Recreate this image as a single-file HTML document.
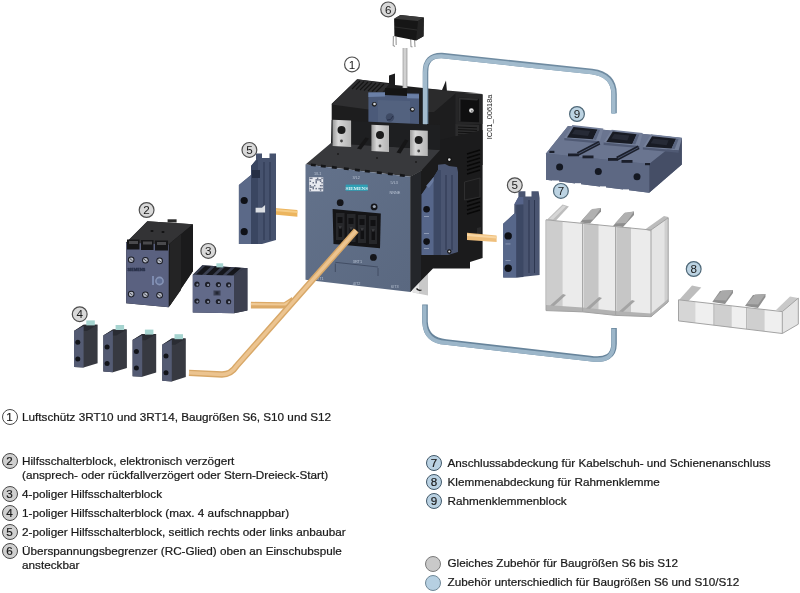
<!DOCTYPE html>
<html><head><meta charset="utf-8">
<style>
html,body{margin:0;padding:0;background:#fff;}
body{width:800px;height:593px;position:relative;overflow:hidden;font-family:"Liberation Sans",sans-serif;color:#1a1a1a;}
.t{position:absolute;font-size:11.73px;line-height:13.5px;white-space:nowrap;-webkit-text-stroke:0.22px #151515;filter:blur(0.3px);}
.c{position:absolute;width:14px;height:14px;border:1.3px solid #484848;border-radius:50%;font-size:11.65px;line-height:14px;text-align:center;color:#1a1a1a;filter:blur(0.3px);-webkit-text-stroke:0.2px #1a1a1a;}
.g{background:#d0d0d0;}
.b{background:#bad2e3;border-color:#42596a;}
#art{position:absolute;left:0;top:0;filter:blur(0.4px);}
</style></head><body>
<svg id="art" width="800" height="400" viewBox="0 0 800 400">
<defs>
 <linearGradient id="lug" x1="0" x2="1" y1="0" y2="0">
  <stop offset="0" stop-color="#9a9a9a"/><stop offset="0.3" stop-color="#d8d8d8"/><stop offset="1" stop-color="#b4b4b4"/>
 </linearGradient>
 <linearGradient id="rod" x1="0" x2="1"><stop offset="0" stop-color="#a8a8a8"/><stop offset="0.5" stop-color="#dcdcdc"/><stop offset="1" stop-color="#a0a0a0"/></linearGradient>
 <linearGradient id="face" x1="0" x2="1" y1="0" y2="1"><stop offset="0" stop-color="#63728b"/><stop offset="1" stop-color="#5a6880"/></linearGradient>
</defs>
<!-- bottom blue pipe -->
<path d="M425,304.5 L425,322 Q426,340.5 446,342 L590,358.5 Q614,362 614,344 L614,328" fill="none" stroke="#67849b" stroke-width="5.6"/>
<path d="M425,304.5 L425,322 Q426,340.5 446,342 L590,358.5 Q614,362 614,344 L614,328" fill="none" stroke="#9cb6c9" stroke-width="4" transform="translate(-0.5,0.8)"/>
<!-- ========== CONTACTOR ========== -->
<!-- upper housing silhouette -->
<polygon points="331.7,103.7 357,79.3 389,83 389,75.5 395,73.4 395,85 442,90 446,80.6 447,92 482.6,94.3 482.6,165 331.7,165" fill="#1d1d1e"/>
<!-- upper-left top face with fins -->
<polygon points="331.6,104.4 357.5,79.3 389,84 368.4,109.5" fill="#2f2f31"/>
<g stroke="#141414" stroke-width="1.1">
 <line x1="360" y1="81" x2="352" y2="89"/><line x1="364" y1="81.5" x2="356" y2="89.5"/><line x1="368" y1="82" x2="360" y2="90"/><line x1="372" y1="82.5" x2="364" y2="90.5"/><line x1="376" y1="83" x2="368" y2="91"/><line x1="380" y1="83.5" x2="372" y2="91.5"/><line x1="384" y1="84" x2="376" y2="92"/>
</g>
<!-- right upper block top -->
<polygon points="428,89 447,90.5 482.4,93.6 455.4,93.5 434,112 428,112" fill="#2b2b2c"/>
<polygon points="455.4,93 482.4,94.4 482.4,124 455.4,124" fill="#262627"/>
<polygon points="458.8,97.5 479,98.5 479,122.3 458.8,121.5" fill="#0f0f10"/>
<polygon points="458.8,97.5 479,98.5 477,100.5 460.5,99.5 460.5,121.5 458.8,121.5" fill="#2f2f30"/>
<circle cx="471.4" cy="110.5" r="2.3" fill="#e4e4e4"/><circle cx="471.9" cy="111" r="1" fill="#888"/>
<!-- vent -->
<polygon points="455.4,124 479,125 479,137.5 455.4,136.5" fill="#2c2c2d"/>
<g stroke="#0d0d0d" stroke-width="0.9"><line x1="458" y1="127" x2="477" y2="127.8"/><line x1="458" y1="129.6" x2="477" y2="130.4"/><line x1="458" y1="132.2" x2="477" y2="133"/><line x1="458" y1="134.8" x2="477" y2="135.6"/></g>
<rect x="476" y="132.4" width="4.5" height="6.8" fill="#3a3a3b"/>
<!-- top blue pipe -->
<path d="M425.5,124 L425.5,72 Q425.5,55 442,55.5 L592,71.5 Q614,74.5 614,94 L614,113.3" fill="none" stroke="#6f8ba1" stroke-width="5.6"/>
<path d="M425.5,124 L425.5,72 Q425.5,55 442,55.5 L592,71.5 Q614,74.5 614,94 L614,113.3" fill="none" stroke="#a2bbcd" stroke-width="4" transform="translate(-0.5,0.8)"/>
<!-- blue coil holder -->
<polygon points="368.4,92.6 419,93.5 419,127.5 368.4,125.3" fill="#4b5a79"/>
<polygon points="378,100 410,101 410,124 378,123" fill="#53627f"/>
<circle cx="390" cy="117.5" r="4.2" fill="#3e4a64"/><path d="M387,120 Q391,121 393,116" stroke="#27304a" stroke-width="1" fill="none"/>
<polygon points="368.4,92.6 385,92.2 385,96.5 368.4,97" fill="#6a7fa6"/>
<polygon points="407,94 419,94.3 419,98.5 407,98.3" fill="#6a7fa6"/>
<polygon points="385,88 407,89 407,96 385,95" fill="#141414"/>
<circle cx="374.3" cy="104.3" r="2.4" fill="#1a1a1a"/><circle cx="374.5" cy="104" r="1.3" fill="#cfd3da"/>
<circle cx="412.3" cy="109.6" r="2.4" fill="#1a1a1a"/><circle cx="412.5" cy="109.3" r="1.3" fill="#cfd3da"/>
<!-- rod -->
<rect x="402.6" y="48" width="4.8" height="40" fill="url(#rod)"/>

<!-- lower body -->
<polygon points="305.5,164.5 331,143 442,150 423,170 410.5,176.8" fill="#38393c"/>
<!-- dark area behind lugs -->
<polygon points="331.7,120 440,125 440,150 331,143" fill="#1e1f21"/>
<!-- lugs -->
<g>
 <polygon points="332.6,119.7 351.1,120.5 351.1,147 332.6,146" fill="url(#lug)"/>
 <circle cx="341.5" cy="130" r="4" fill="#1c1c1c"/><circle cx="341.5" cy="141" r="1.4" fill="#444"/>
 <polygon points="371.4,124.8 389,125.6 389,152 371.4,151" fill="url(#lug)"/>
 <circle cx="380" cy="135" r="4" fill="#1c1c1c"/><circle cx="380" cy="146" r="1.4" fill="#444"/>
 <polygon points="410,129.9 427.8,130.7 427.8,156 410,155.4" fill="url(#lug)"/>
 <circle cx="418.7" cy="140" r="4" fill="#1c1c1c"/><circle cx="418.7" cy="151" r="1.4" fill="#444"/>
</g>
<!-- black ribs between lugs on top -->
<g fill="#161617">
 <polygon points="357,148.5 365.5,137.5 369,138.5 361,149.5"/>
 <polygon points="396.5,152.5 405,139.5 408.5,140.5 400.5,153.5"/>
</g>
<g fill="#1c1c1d"><circle cx="338" cy="154" r="1"/><circle cx="377" cy="158" r="1"/><circle cx="416" cy="162" r="1"/></g>
<!-- front face -->
<polygon points="305.5,164.5 410.5,176.8 410.5,292 305.5,279.8" fill="url(#face)"/>
<!-- top edge notches -->
<g fill="#151618"><rect x="311.0" y="163.4" width="5" height="2.6" transform="rotate(6.7 311.0 163.4)"/><rect x="321.0" y="164.6" width="5" height="2.6" transform="rotate(6.7 321.0 164.6)"/><rect x="332.0" y="165.8" width="5" height="2.6" transform="rotate(6.7 332.0 165.8)"/><rect x="344.0" y="167.2" width="5" height="2.6" transform="rotate(6.7 344.0 167.2)"/><rect x="355.0" y="168.5" width="5" height="2.6" transform="rotate(6.7 355.0 168.5)"/><rect x="365.0" y="169.7" width="5" height="2.6" transform="rotate(6.7 365.0 169.7)"/><rect x="377.0" y="171.1" width="5" height="2.6" transform="rotate(6.7 377.0 171.1)"/><rect x="388.0" y="172.4" width="5" height="2.6" transform="rotate(6.7 388.0 172.4)"/><rect x="400.0" y="173.8" width="5" height="2.6" transform="rotate(6.7 400.0 173.8)"/></g>
<!-- QR -->
<rect x="309.2" y="177.2" width="14" height="14.2" fill="#e8eaf0"/>
<g fill="#6a7388"><rect x="309.60" y="177.60" width="1.47" height="1.47"/><rect x="309.60" y="180.53" width="1.47" height="1.47"/><rect x="309.60" y="184.93" width="1.47" height="1.47"/><rect x="309.60" y="186.40" width="1.47" height="1.47"/><rect x="309.60" y="189.33" width="1.47" height="1.47"/><rect x="311.07" y="177.60" width="1.47" height="1.47"/><rect x="311.07" y="186.40" width="1.47" height="1.47"/><rect x="312.53" y="182.00" width="1.47" height="1.47"/><rect x="312.53" y="186.40" width="1.47" height="1.47"/><rect x="312.53" y="187.87" width="1.47" height="1.47"/><rect x="314.00" y="184.93" width="1.47" height="1.47"/><rect x="315.47" y="179.07" width="1.47" height="1.47"/><rect x="315.47" y="180.53" width="1.47" height="1.47"/><rect x="315.47" y="182.00" width="1.47" height="1.47"/><rect x="315.47" y="187.87" width="1.47" height="1.47"/><rect x="316.93" y="177.60" width="1.47" height="1.47"/><rect x="316.93" y="179.07" width="1.47" height="1.47"/><rect x="318.40" y="179.07" width="1.47" height="1.47"/><rect x="318.40" y="187.87" width="1.47" height="1.47"/><rect x="319.87" y="179.07" width="1.47" height="1.47"/><rect x="319.87" y="180.53" width="1.47" height="1.47"/><rect x="319.87" y="184.93" width="1.47" height="1.47"/><rect x="319.87" y="187.87" width="1.47" height="1.47"/><rect x="319.87" y="189.33" width="1.47" height="1.47"/><rect x="321.33" y="177.60" width="1.47" height="1.47"/><rect x="321.33" y="182.00" width="1.47" height="1.47"/><rect x="321.33" y="184.93" width="1.47" height="1.47"/><rect x="321.33" y="187.87" width="1.47" height="1.47"/></g>
<!-- siemens label -->
<rect x="345.7" y="184.6" width="22" height="6.2" fill="#2f9fb4"/>
<text x="356.7" y="189.8" font-size="5" fill="#e0f4f8" text-anchor="middle" font-family="Liberation Serif" font-weight="bold">SIEMENS</text>
<g font-size="3.8" fill="#b9c3d3" font-family="Liberation Sans">
 <text x="314" y="174.5">1/L1</text><text x="352.5" y="179">3/L2</text><text x="390.5" y="183.5">5/L3</text><text x="389.5" y="193.5">NNNE</text>
 <text x="352.8" y="262.5">3RT1</text><text x="352.8" y="284.5">4/T2</text><text x="391" y="288">6/T3</text><text x="316" y="280">2/T1</text>
</g>
<!-- holes -->
<circle cx="340.2" cy="202.7" r="3.4" fill="#15161a"/>
<circle cx="374.1" cy="206.9" r="3.4" fill="#15161a"/><circle cx="374.3" cy="206.5" r="1.6" fill="#9aa4b4"/>
<circle cx="373.4" cy="257.4" r="3.4" fill="#15161a"/>
<!-- terminal block -->
<polygon points="332.6,209 380.8,213.5 380,248.3 333.5,243.9" fill="#141416"/>
<g fill="#26272a">
 <rect x="336" y="213" width="8.5" height="27"/><rect x="347" y="214" width="8.5" height="28"/><rect x="358" y="215" width="8" height="28"/><rect x="369" y="216" width="8" height="28"/>
</g>
<g fill="#111113"><rect x="337.5" y="217" width="5" height="6"/><rect x="348.5" y="218" width="5" height="6"/><rect x="359.5" y="219" width="5" height="6"/><rect x="370.5" y="220" width="5" height="6"/>
<rect x="338.5" y="227" width="3.5" height="10"/><rect x="349.5" y="228" width="3.5" height="10"/><rect x="360.5" y="229" width="3.5" height="10"/><rect x="371.5" y="230" width="3.5" height="10"/></g>
<g fill="#38393c"><rect x="339" y="226" width="2.5" height="2.5"/><rect x="350" y="227" width="2.5" height="2.5"/><rect x="361" y="228" width="2.5" height="2.5"/><rect x="372" y="229" width="2.5" height="2.5"/></g>
<!-- recessed label -->
<g stroke="#3e4a60" stroke-width="0.9" fill="none"><line x1="335.3" y1="263.5" x2="335.3" y2="272"/><line x1="378" y1="268" x2="378" y2="276"/><line x1="335.3" y1="262.3" x2="378" y2="267"/></g>
<!-- bottom lug -->
<polygon points="412,274 428,273 428,295.5 412.7,292.5" fill="#c9c9c9"/>
<polygon points="412,274 419,273.6 419,293.5 412.7,292.5" fill="#e4e4e4"/>
<path d="M416.5,288.5 Q418.5,291 421.5,290" stroke="#1a1a1a" stroke-width="1.3" fill="none"/>

<!-- right black block lower -->
<polygon points="410.5,176.8 421,171 440,150 440,140 482.6,130 482.6,258 470,262 470,268.6 433,268.6 412.6,289.2 410.5,292" fill="#1b1b1c"/>
<polygon points="410.5,176.8 421,171 421,280.3 412.6,289.2 410.5,292" fill="#24262a"/>
<g stroke="#080808" stroke-width="1.5"><line x1="467" y1="154.0" x2="480" y2="150.0"/><line x1="467" y1="158.0" x2="480" y2="154.0"/><line x1="467" y1="162.0" x2="480" y2="158.0"/><line x1="467" y1="166.0" x2="480" y2="162.0"/><line x1="467" y1="170.0" x2="480" y2="166.0"/><line x1="467" y1="174.0" x2="480" y2="170.0"/><line x1="467" y1="202.0" x2="480" y2="198.0"/><line x1="467" y1="206.0" x2="480" y2="202.0"/><line x1="467" y1="210.0" x2="480" y2="206.0"/><line x1="467" y1="214.0" x2="480" y2="210.0"/></g>
<polygon points="464.5,182 480,178 480,197 464.5,200" fill="none" stroke="#2e2e2f" stroke-width="1"/>
<polygon points="477,228 481,227 481,238 477,239" fill="#2a2a2b"/>
<!-- aux switch on contactor (5) -->
<polygon points="433.7,177 438,170 438,164.8 445,164 449,166 457,167 458,172 458,252 448,255 421.6,255 421.6,194.5" fill="#4a5571"/>
<polygon points="421.6,194.5 433.7,177 433.7,255 421.6,255" fill="#56668a"/>
<polygon points="426,186 433.7,177 436,178 429,188" fill="#6a7ba0"/>
<polygon points="433.7,177 438,170 441,170 441,255 433.7,255" fill="#3d4965"/>
<g stroke="#2d3750" stroke-width="1"><line x1="446" y1="175" x2="446" y2="250"/><line x1="452" y1="175" x2="452" y2="250"/></g>
<circle cx="426.6" cy="209.3" r="3.3" fill="#0f1015"/>
<circle cx="426.6" cy="241.6" r="3.3" fill="#0f1015"/>
<g fill="#8d9ab5"><rect x="424" y="216" width="5" height="1"/><rect x="424" y="233" width="5" height="1"/><rect x="424" y="248" width="5" height="1"/></g>
<circle cx="449.3" cy="159.6" r="2.4" fill="#111"/><circle cx="449.3" cy="159.6" r="1.3" fill="#d8d8d8"/>
<circle cx="449.3" cy="251.5" r="2.2" fill="#111"/><circle cx="449.3" cy="251.5" r="1.1" fill="#d8d8d8"/>

<!-- ========== component 6 (RC) ========== -->
<g>
 <g stroke="#9a9a9a" stroke-width="1.1" fill="none">
  <path d="M393.4,36 L393.2,45.5 L395,46.5"/><path d="M396,37 L396.2,45"/>
  <path d="M410.6,38 L411,46.5 L412.5,47"/><path d="M414.5,38.5 L415,47"/>
 </g>
 <polygon points="394.1,18.8 400.5,15.1 423.8,17.4 423.5,36.3 416,40.4 394.4,36.3" fill="#161616"/>
 <polygon points="394.1,18.8 400.5,15.1 423.8,17.4 418,21" fill="#3a3a3a"/>
 <polygon points="418,21 423.8,17.4 423.5,36.3 416,40.4" fill="#232323"/>
 <line x1="395" y1="27" x2="417" y2="30" stroke="#2c2c2c" stroke-width="1"/>
</g>

<!-- ========== orange bars ========== -->
<polygon points="250.9,301.8 284,302.2 292,297 292,306 284,308.6 250.9,308.4" fill="#dcaa68"/>
<polygon points="250.9,303 284,303.4 290,300 287,305.5 250.9,305.3" fill="#efc995"/>
<path d="M356.2,230.5 L236.5,366 Q231,374.5 222,374.5 L189,372.8" fill="none" stroke="#d8a868" stroke-width="6.3" stroke-linejoin="round"/>
<path d="M356.2,230.5 L236.5,366 Q231,374.5 222,374.5 L189,372.8" fill="none" stroke="#ecc490" stroke-width="3.4" stroke-linejoin="round"/>
<polygon points="268.5,207.4 297.4,210 297.4,216.75 268.5,214.1" fill="#ecb55e"/>
<polygon points="268.5,208.4 297.4,211 297.4,213 268.5,210.6" fill="#f6cd86"/>
<polygon points="467,232.75 496.6,235.4 496.6,242.1 467,239.9" fill="#efbf7c"/>
<polygon points="467,233.75 496.6,236.4 496.6,238.4 467,236" fill="#f8d6a3"/>

<!-- ========== component 5 left ========== -->
<g>
 <polygon points="238.9,185 251,175 251,166 256,160 256,153.6 262,153.6 262,158 269.5,158 269.5,153.6 276,153.6 276,240 262,244 238.9,244" fill="#46526e"/>
 <polygon points="238.9,185 251,175 251,244 238.9,244" fill="#5b6988"/>
 <polygon points="251,166 256,160 258,160 258,244 251,244" fill="#3a4661"/>
 <g stroke="#2d3750" stroke-width="1"><line x1="264" y1="162" x2="264" y2="240"/><line x1="270" y1="162" x2="270" y2="240"/></g>
 <rect x="252" y="170" width="8" height="8" fill="#262f44"/>
 <circle cx="244.2" cy="200.5" r="3.6" fill="#0f1117"/>
 <circle cx="244.2" cy="231.7" r="3.6" fill="#0f1117"/>
 <polygon points="255.6,207.8 262,207.8 265.1,205 265.1,212.6 255.6,212.6" fill="#dcdfe4"/>
</g>

<!-- ========== component 2 ========== -->
<g>
 <polygon points="147.4,221.3 192.9,224.3 193,271 168.7,307.3 126.2,303.2 126.2,242.5" fill="#1c1c1d"/>
 <polygon points="147.4,221.3 192.9,224.3 168.7,244.6 126.2,242.5" fill="#333335"/>
 <polygon points="168.7,244.6 192.9,224.3 193,271 168.7,307.3" fill="#1b1b1c"/>
 <polygon points="170,243.5 181,234 181,290 170,305.5" fill="#242425"/>
 <rect x="167.6" y="219.3" width="9" height="3.2" fill="#2a2a2a"/>
 <ellipse cx="152" cy="231" rx="1.6" ry="1" fill="#111"/><ellipse cx="163" cy="232" rx="1.6" ry="1" fill="#111"/>
 <polygon points="126.2,242.5 168.7,244.6 168.7,307.3 126.2,303.2" fill="#5a6180"/>
 <g fill="#161618"><rect x="127" y="239.5" width="12.5" height="10"/><rect x="141" y="240" width="12.5" height="10"/><rect x="155" y="240.5" width="13" height="10"/></g>
 <g fill="#4a4a4d"><rect x="129" y="241" width="9" height="3"/><rect x="143" y="241.5" width="9" height="3"/><rect x="157" y="242" width="9" height="3"/></g>
 <g fill="#1b1d24"><circle cx="131.2" cy="259.7" r="3.3"/><circle cx="145.4" cy="260.3" r="3.3"/><circle cx="159.6" cy="260.9" r="3.3"/><circle cx="131.2" cy="294.1" r="3.3"/><circle cx="145.4" cy="294.7" r="3.3"/><circle cx="159.6" cy="295.3" r="3.3"/></g>
 <g fill="#b9bdc8"><circle cx="131.2" cy="259.7" r="2.3"/><circle cx="145.4" cy="260.3" r="2.3"/><circle cx="159.6" cy="260.9" r="2.3"/><circle cx="131.2" cy="294.1" r="2.3"/><circle cx="145.4" cy="294.7" r="2.3"/><circle cx="159.6" cy="295.3" r="2.3"/></g>
 <g stroke="#30343e" stroke-width="0.8"><line x1="129.8" y1="258.6" x2="132.6" y2="260.8"/><line x1="144" y1="259.2" x2="146.8" y2="261.4"/><line x1="158.2" y1="259.8" x2="161" y2="262"/><line x1="129.8" y1="293" x2="132.6" y2="295.2"/><line x1="144" y1="293.6" x2="146.8" y2="295.8"/><line x1="158.2" y1="294.2" x2="161" y2="296.4"/></g>
 <text x="127.4" y="270.6" font-size="3.8" font-family="Liberation Sans" font-weight="bold" fill="#242c44" textLength="18" stroke="#242c44" stroke-width="0.3">SIEMENS</text>
 <rect x="152" y="276" width="2" height="9" fill="#7d8bb0"/><circle cx="159.5" cy="281" r="3.6" fill="#5f6d93" stroke="#8593b5" stroke-width="1.6"/>
</g>

<!-- ========== component 3 ========== -->
<g>
 <polygon points="192.8,274.8 202.3,265.3 244.7,268 247.4,268 247.4,310.5 234,313.2 192.8,312.6" fill="#2e3344"/>
 <polygon points="192.8,274.8 202.3,265.3 244.7,268 234,275.5" fill="#3a3f50"/>
 <g fill="#15161b"><polygon points="196,274.5 205,266 211,266.5 202,275"/><polygon points="206,275 215,266.5 221,267 212,275.5"/><polygon points="216,275.3 225,267 231,267.5 222,275.8"/><polygon points="226,275.6 235,267.5 241,268 232,276"/></g>
 <polygon points="234,275.5 244.7,268 247.4,268 247.4,310.5 234,313.2" fill="#3c4050"/>
 <polygon points="192.8,274.8 234,275.5 234,313.2 192.8,312.6" fill="#626a89"/>
 <polygon points="216.4,263.3 223.2,263.3 223.2,267.4 216.4,267.4" fill="#a6d4d0"/>
 <g fill="#1e202a"><circle cx="196.9" cy="284.2" r="2.6"/><circle cx="207.6" cy="284.4" r="2.6"/><circle cx="218.4" cy="284.6" r="2.6"/><circle cx="228.6" cy="284.8" r="2.6"/><circle cx="196.9" cy="301.1" r="2.6"/><circle cx="207.6" cy="301.3" r="2.6"/><circle cx="218.4" cy="301.5" r="2.6"/><circle cx="228.6" cy="301.7" r="2.6"/></g><g fill="#8c93a8"><circle cx="197.4" cy="284.7" r="1.1"/><circle cx="208.1" cy="284.9" r="1.1"/><circle cx="218.9" cy="285.1" r="1.1"/><circle cx="229.1" cy="285.3" r="1.1"/><circle cx="197.4" cy="301.6" r="1.1"/><circle cx="208.1" cy="301.8" r="1.1"/><circle cx="218.9" cy="302.0" r="1.1"/><circle cx="229.1" cy="302.2" r="1.1"/></g>
 <rect x="213.5" y="290.5" width="7" height="5" fill="#3a3f52"/><rect x="215.5" y="291.5" width="3" height="3" fill="#222633"/>
</g>

<!-- ========== component 4 ========== -->
<g>
 <polygon points="74,330.9 83.6,324.8 97.6,324.8 97.6,363.3 83.6,367.6 74,367" fill="#373941"/>
 <polygon points="74,330.9 83.6,324.8 97.6,324.8 87,331" fill="#2a2c33"/>
 <polygon points="74,330.9 83.6,326 83.6,367.6 74,367" fill="#545b73"/>
 <rect x="86.3" y="320.4" width="8.5" height="5" fill="#a6d4d0"/>
 <circle cx="77.8" cy="342.3" r="2.5" fill="#12141a"/><circle cx="77.8" cy="358.9" r="2.5" fill="#12141a"/>
</g>
<g transform="translate(29.3,4.6)">
 <polygon points="74,330.9 83.6,324.8 97.6,324.8 97.6,363.3 83.6,367.6 74,367" fill="#373941"/>
 <polygon points="74,330.9 83.6,324.8 97.6,324.8 87,331" fill="#2a2c33"/>
 <polygon points="74,330.9 83.6,326 83.6,367.6 74,367" fill="#545b73"/>
 <rect x="86.3" y="320.4" width="8.5" height="5" fill="#a6d4d0"/>
 <circle cx="77.8" cy="342.3" r="2.5" fill="#12141a"/><circle cx="77.8" cy="358.9" r="2.5" fill="#12141a"/>
</g>
<g transform="translate(58.6,9.2)">
 <polygon points="74,330.9 83.6,324.8 97.6,324.8 97.6,363.3 83.6,367.6 74,367" fill="#373941"/>
 <polygon points="74,330.9 83.6,324.8 97.6,324.8 87,331" fill="#2a2c33"/>
 <polygon points="74,330.9 83.6,326 83.6,367.6 74,367" fill="#545b73"/>
 <rect x="86.3" y="320.4" width="8.5" height="5" fill="#a6d4d0"/>
 <circle cx="77.8" cy="342.3" r="2.5" fill="#12141a"/><circle cx="77.8" cy="358.9" r="2.5" fill="#12141a"/>
</g>
<g transform="translate(88.2,13.8)">
 <polygon points="74,330.9 83.6,324.8 97.6,324.8 97.6,363.3 83.6,367.6 74,367" fill="#373941"/>
 <polygon points="74,330.9 83.6,324.8 97.6,324.8 87,331" fill="#2a2c33"/>
 <polygon points="74,330.9 83.6,326 83.6,367.6 74,367" fill="#545b73"/>
 <rect x="86.3" y="320.4" width="8.5" height="5" fill="#a6d4d0"/>
 <circle cx="77.8" cy="342.3" r="2.5" fill="#12141a"/><circle cx="77.8" cy="358.9" r="2.5" fill="#12141a"/>
</g>

<!-- ========== component 5 right ========== -->
<g>
 <polygon points="503.2,223.7 514.3,213.6 514.3,204.5 518.4,197 518.4,191.3 525.4,191.3 525.4,196.4 531.5,196.4 531.5,191.3 538.6,191.3 539.6,198 539.6,275 516.3,277.4 503.2,277.4" fill="#4a5571"/>
 <polygon points="503.2,223.7 514.3,213.6 516.3,213.6 516.3,277.4 503.2,277.4" fill="#57678a"/>
 <polygon points="514.3,204.5 518.4,197 523.4,197 523.4,204.5" fill="#56648a"/>
 <polygon points="516.3,205 523.4,204.5 523.4,277 516.3,277.4" fill="#3c4864"/>
 <g stroke="#2d3750" stroke-width="1"><line x1="529" y1="200" x2="529" y2="273"/><line x1="534.5" y1="200" x2="534.5" y2="273"/></g>
 <circle cx="508.2" cy="235.9" r="3.7" fill="#0e1016"/>
 <circle cx="508.2" cy="268.3" r="3.7" fill="#0e1016"/>
 <g fill="#8d9ab5"><rect x="505.5" y="243.5" width="5" height="0.9"/><rect x="505.5" y="260" width="5" height="0.9"/></g>
</g>

<!-- ========== component 9 ========== -->
<g>
 <polygon points="546,153.5 568,126 681.8,138.1 681.8,164.6 649.2,192.7 546,179.8" fill="#5c6781"/>
 <polygon points="546,153.5 568,126 681.8,138.1 649.2,164" fill="#6a7590"/>
 <polygon points="649.2,164 681.8,138.1 681.8,164.6 649.2,192.7" fill="#454e66"/>
 <polygon points="546,153.5 649.2,164 649.2,192.7 546,179.8" fill="#5d6883"/>
 <!-- sockets -->
<polygon points="564.3,138.0 572.4,125.1 603.4,128.5 600.0,141.3" fill="#75809a"/>
<polygon points="564.3,138.0 600.0,141.3 600.0,143.5 564.3,140.3" fill="#505a74"/>
<polygon points="567.0,137.5 573.5,127.0 597.5,129.6 593.0,139.3" fill="#181b24"/>
<polygon points="593.0,139.3 597.5,129.6 600.0,130.0 596.0,140.0" fill="#5a6580"/>
<polygon points="572.0,134.0 575.0,129.5 590.0,131.0 588.0,136.0" fill="#262a36"/>
<polygon points="603.6,142.6 611.7,129.7 642.7,133.1 639.3,145.9" fill="#75809a"/>
<polygon points="603.6,142.6 639.3,145.9 639.3,148.1 603.6,144.9" fill="#505a74"/>
<polygon points="606.3,142.1 612.8,131.6 636.8,134.2 632.3,143.9" fill="#181b24"/>
<polygon points="632.3,143.9 636.8,134.2 639.3,134.6 635.3,144.6" fill="#5a6580"/>
<polygon points="611.3,138.6 614.3,134.1 629.3,135.6 627.3,140.6" fill="#262a36"/>
<polygon points="642.9,147.2 651.0,134.3 682.0,137.7 678.6,150.5" fill="#75809a"/>
<polygon points="642.9,147.2 678.6,150.5 678.6,152.7 642.9,149.5" fill="#505a74"/>
<polygon points="645.6,146.7 652.1,136.2 676.1,138.8 671.6,148.5" fill="#181b24"/>
<polygon points="671.6,148.5 676.1,138.8 678.6,139.2 674.6,149.2" fill="#5a6580"/>
<polygon points="650.6,143.2 653.6,138.7 668.6,140.2 666.6,145.2" fill="#262a36"/>
<g fill="#1b1f2b">
  <polygon points="576.9,152.2 598.5,140.9 600.3,144.5 578.7,155.8"/>
  <polygon points="616.2,156.8 637.8,145.5 639.6,149.1 618,160.4"/>
  <rect x="568" y="153.5" width="11" height="2.8"/><rect x="582.5" y="155.5" width="11" height="2.8"/>
  <rect x="608" y="158" width="10" height="2.8"/><rect x="621.5" y="160" width="11" height="2.8"/>
  <rect x="549.4" y="150.8" width="5" height="2.2"/><rect x="645" y="163" width="5" height="2.2"/>
 </g>
 <g stroke="#55617d" stroke-width="0.8"><line x1="578.5" y1="153.7" x2="599" y2="143"/><line x1="617.8" y1="158.3" x2="638.3" y2="147.6"/></g>
 <g fill="#141822"><circle cx="559.6" cy="167" r="3.5"/><circle cx="598.3" cy="171.6" r="3.5"/><circle cx="637" cy="176.8" r="3.5"/></g>
 <g fill="#fff"><rect x="552" y="180.5" width="7" height="2.2"/><rect x="575" y="183.2" width="6" height="2.2"/><rect x="600" y="186.4" width="6" height="2.2"/><rect x="623" y="189.4" width="6" height="2.2"/></g>
</g>

<!-- ========== component 7 ========== -->
<g>
 <polygon points="546,219.8 651,230 668.2,217.8 668.2,302 651,316.7 546,310.6" fill="#ebebeb"/>
 <!-- flaps -->
 <polygon points="547,219.8 562.6,204.4 568.9,206.4 556,220.6" fill="#bdbdbd"/>
 <polygon points="549,219 563,205.5 566,206.5 553,219.5" fill="#d6d6d6"/>
 <polygon points="580,222.5 591,210 601,208 601,211.5 590,223.5" fill="#8e8e8e"/>
 <polygon points="582,220 592,209 601,208 593,219.5" fill="#b0b0b0"/>
 <polygon points="613,226 624,213.5 634,211.5 634,215 623,227" fill="#8e8e8e"/>
 <polygon points="615,223.5 625,212.5 634,211.5 626,223" fill="#b0b0b0"/>
 <polygon points="645,229.5 664,216 668.2,217 668.2,220 651,231.5" fill="#bcbcbc"/>
 <!-- bands -->
 <polygon points="547,220 562.6,221.6 562.6,307 547,306" fill="#cdcdcd"/>
 <polygon points="583.7,223 598.5,224.5 598.5,309.5 583.7,308.5" fill="#c6c6c6"/>
 <polygon points="616.5,226.4 631,227.8 631,312.5 616.5,311.5" fill="#c6c6c6"/>
 <polygon points="651,230 668.2,217.8 668.2,302 651,316.7" fill="#e4e4e4"/>
 <polygon points="664.5,220.5 668.2,217.8 668.2,302 664.5,305" fill="#cfcfcf"/>
 <!-- bottom ledges -->
 <g fill="#b2b2b2">
  <polygon points="546,305 582.6,307.6 582.6,311.8 546,310.6"/>
  <polygon points="582.6,307.6 615.6,311 615.6,315.4 582.6,311.8"/>
  <polygon points="615.6,311 651,313.5 651,316.7 615.6,315.4"/>
  <polygon points="651,313.5 668.2,299 668.2,302 651,316.7"/>
 </g>
 <g fill="#a3a3a3">
  <polygon points="550,305.5 563,294 566,295 554,306"/>
  <polygon points="586,308.5 599,297 602,298 590,309"/>
  <polygon points="619,311.5 632,300 635,301 623,312"/>
 </g>
 <g stroke="#a2a2a2" stroke-width="1" fill="none">
  <polyline points="546,310.6 546,219.8 651,230 668.2,217.8"/>
  <line x1="582.6" y1="222.6" x2="582.6" y2="311.8"/>
  <line x1="615.6" y1="226" x2="615.6" y2="315.4"/>
  <polyline points="651,230 651,316.7 668.2,302 668.2,217.8"/>
  <polyline points="546,310.6 582.6,311.8 615.6,315.4 651,316.7"/>
 </g>
</g>

<!-- ========== component 8 ========== -->
<g>
 <polygon points="678.5,299.8 782.3,311.6 798.3,298.1 798.3,324.2 782.3,333.5 678.5,320.9" fill="#efefef"/>
 <polygon points="679,300 692,285.5 701.3,287.5 688,301.5" fill="#bdbdbd"/>
 <polygon points="712.3,302 720,291 733,290 733,293 725,304" fill="#8f8f8f"/>
 <polygon points="714,300 722,290.5 733,290 726,300.5" fill="#a9a9a9"/>
 <polygon points="745,306 753,295 765.5,294 765.5,297 758,308" fill="#8f8f8f"/>
 <polygon points="747,304 755,294.5 765.5,294 758,304.5" fill="#a9a9a9"/>
 <polygon points="776,310 790,296.5 798.3,298.1 798.3,304 782.3,311.6" fill="#c9c9c9"/>
 <polygon points="679,300 695.4,301.9 695.4,323 679,321" fill="#d6d6d6"/>
 <polygon points="714.8,304 731.7,306 731.7,327.4 714.8,325.4" fill="#cfcfcf"/>
 <polygon points="747.7,307.8 764.6,309.7 764.6,331.3 747.7,329.3" fill="#cfcfcf"/>
 <polygon points="782.3,311.6 798.3,298.1 798.3,324.2 782.3,333.5" fill="#e4e4e4"/>
 <g stroke="#a3a3a3" stroke-width="1" fill="none">
  <polyline points="678.5,320.9 678.5,299.8 782.3,311.6 798.3,298.1"/>
  <line x1="714" y1="303.8" x2="714" y2="325.3"/>
  <line x1="746.8" y1="307.6" x2="746.8" y2="329.2"/>
  <polyline points="782.3,311.6 782.3,333.5 798.3,324.2 798.3,298.1"/>
  <polyline points="678.5,320.9 782.3,333.5"/>
 </g>
</g>

<!-- IC01 text -->
<text transform="translate(492,139.2) rotate(-90)" font-family="Liberation Sans" font-size="7.45" fill="#222">IC01_00618a</text>

<!-- ========== diagram label circles ========== -->
<g font-family="Liberation Sans" font-size="11.65" text-anchor="middle" fill="#1a1a1a">
 <g stroke="#4e4e4e" stroke-width="1.2">
  <circle cx="352" cy="64.4" r="7.4" fill="#fff"/>
  <circle cx="146.6" cy="210" r="7.4" fill="#d9d9d9"/>
  <circle cx="208.3" cy="250.9" r="7.4" fill="#d9d9d9"/>
  <circle cx="79.7" cy="314.2" r="7.4" fill="#d9d9d9"/>
  <circle cx="249.4" cy="149.9" r="7.4" fill="#d9d9d9"/>
  <circle cx="514.8" cy="185.2" r="7.4" fill="#d9d9d9"/>
  <circle cx="388.2" cy="9.4" r="7.4" fill="#d9d9d9"/>
 </g>
 <g stroke="#4f6878" stroke-width="1.2" fill="#bcd3e2">
  <circle cx="560.9" cy="190.9" r="7.4"/>
  <circle cx="693.7" cy="269" r="7.4"/>
  <circle cx="577" cy="114" r="7.4"/>
 </g>
 <text x="352" y="68.6">1</text>
 <text x="146.6" y="214.2">2</text>
 <text x="208.3" y="255.1">3</text>
 <text x="79.7" y="318.4">4</text>
 <text x="249.4" y="154.1">5</text>
 <text x="514.8" y="189.4">5</text>
 <text x="388.2" y="13.6">6</text>
 <text x="560.9" y="195.1">7</text>
 <text x="693.7" y="273.2">8</text>
 <text x="577" y="118.2">9</text>
</g>

</svg>
<!-- legend -->
<div class="c" style="left:1.5px;top:408.5px;background:#fff">1</div>
<div class="t" style="left:22px;top:410.2px">Luftschütz 3RT10 und 3RT14, Baugrößen S6, S10 und S12</div>

<div class="c g" style="left:1.5px;top:453px">2</div>
<div class="t" style="left:22px;top:454.2px">Hilfsschalterblock, elektronisch verzögert</div>
<div class="t" style="left:22px;top:467.7px">(ansprech- oder rückfallverzögert oder Stern-Dreieck-Start)</div>
<div class="c g" style="left:1.5px;top:485.5px">3</div>
<div class="t" style="left:22px;top:486.7px">4-poliger Hilfsschalterblock</div>
<div class="c g" style="left:1.5px;top:504.5px">4</div>
<div class="t" style="left:22px;top:505.7px">1-poliger Hilfsschalterblock (max. 4 aufschnappbar)</div>
<div class="c g" style="left:1.5px;top:523.5px">5</div>
<div class="t" style="left:22px;top:524.7px">2-poliger Hilfsschalterblock, seitlich rechts oder links anbaubar</div>
<div class="c g" style="left:1.5px;top:543px">6</div>
<div class="t" style="left:22px;top:544.2px">Überspannungsbegrenzer (RC-Glied) oben an Einschubspule</div>
<div class="t" style="left:22px;top:557.7px">ansteckbar</div>

<div class="c b" style="left:426px;top:454.5px">7</div>
<div class="t" style="left:447.5px;top:455.5px">Anschlussabdeckung für Kabelschuh- und Schienenanschluss</div>
<div class="c b" style="left:426px;top:473.5px">8</div>
<div class="t" style="left:447.5px;top:474.7px">Klemmenabdeckung für Rahmenklemme</div>
<div class="c b" style="left:426px;top:492.5px">9</div>
<div class="t" style="left:447.5px;top:493.5px">Rahmenklemmenblock</div>

<div class="c g" style="left:425px;top:555.5px;background:#c9c9c9;border-color:#7a7a7a"></div>
<div class="t" style="left:447.5px;top:555.5px">Gleiches Zubehör für Baugrößen S6 bis S12</div>
<div class="c b" style="left:425px;top:575px;background:#b6d0e2;border-color:#6f8797"></div>
<div class="t" style="left:447.5px;top:575px">Zubehör unterschiedlich für Baugrößen S6 und S10/S12</div>
</body></html>
